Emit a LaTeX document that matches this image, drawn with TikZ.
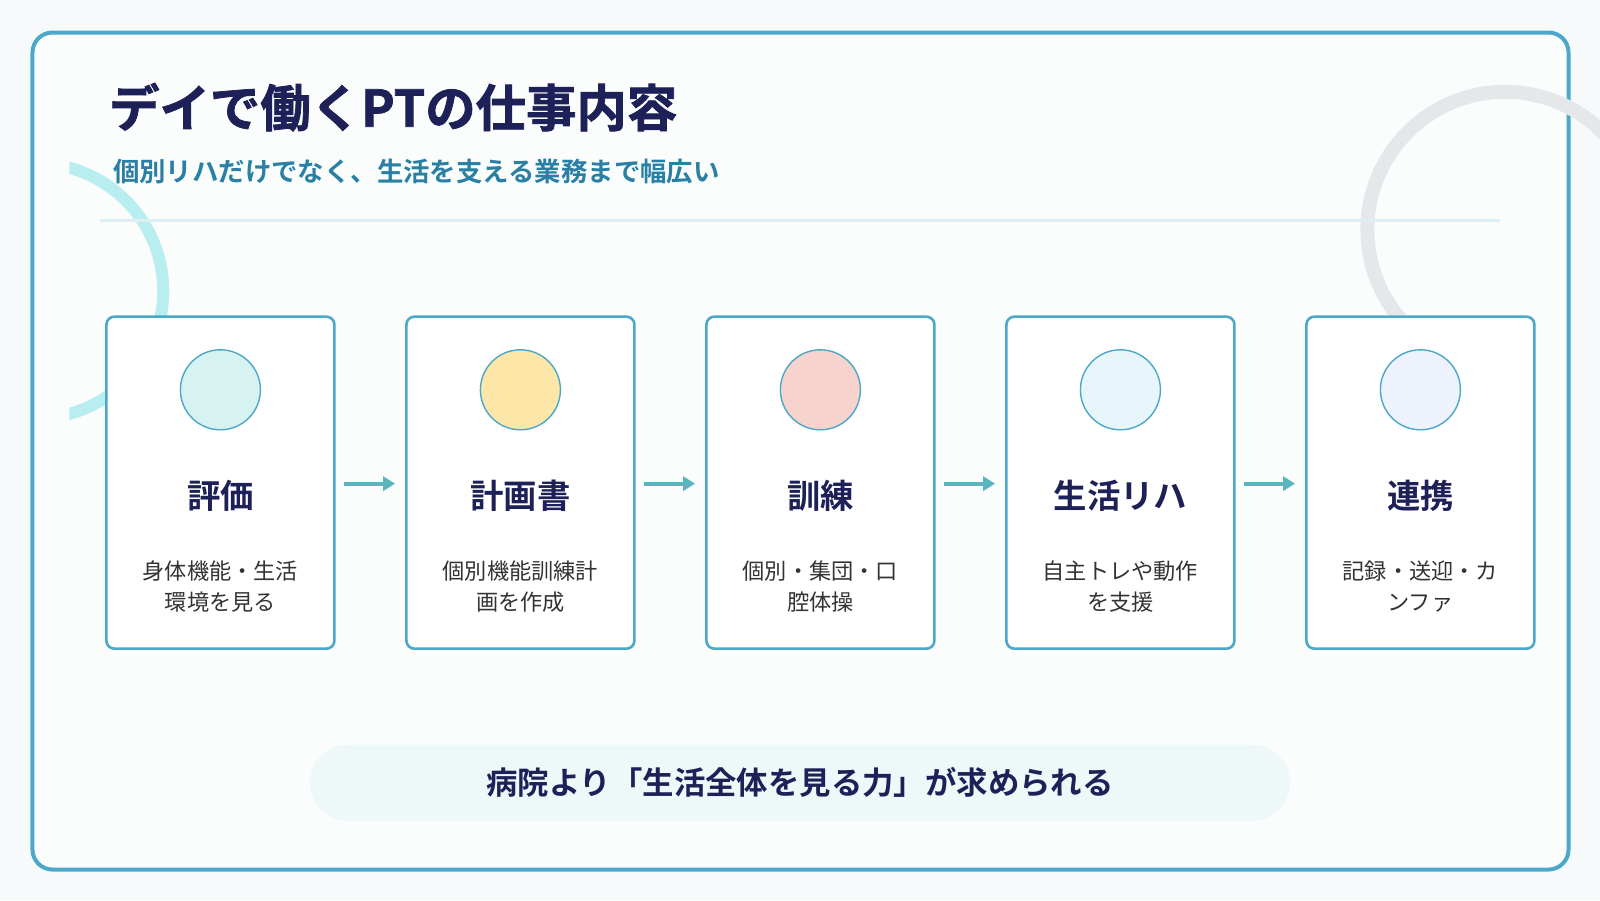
\documentclass[tikz,border=0pt]{standalone}
\usepackage{fontspec}
\setmainfont{Noto Sans CJK JP}
\newfontfamily\jpb{Noto Sans CJK JP Bold}
\newfontfamily\jpbb[FakeBold=1.5]{Noto Sans CJK JP Bold}
\usetikzlibrary{arrows.meta}
\definecolor{navy}{HTML}{1E2157}
\definecolor{frameblue}{HTML}{4BA8C8}
\definecolor{subblue}{HTML}{2A7FA5}
\definecolor{arrowc}{HTML}{5BB5BF}
\definecolor{bgc}{HTML}{F7FAFB}
\definecolor{innerc}{HTML}{FBFDFD}
\definecolor{cyanarc}{HTML}{B9EEF0}
\definecolor{grayarc}{HTML}{E6E7EA}
\definecolor{rulec}{HTML}{DDEFF3}
\definecolor{pillc}{HTML}{EEF8F9}
\tikzset{
 card/.style={draw=frameblue,line width=1.3pt,rounded corners=4pt,fill=white},
 ic/.style={circle,draw=frameblue,line width=0.7pt,minimum size=40pt,inner sep=0pt},
 head/.style={font=\jpb\fontsize{16.7}{18}\selectfont,text=navy},
 desc/.style={font=\fontsize{11.1}{15.3}\selectfont,text=black!80,align=center},
 arr/.style={draw=arrowc,line width=2pt,-{Triangle[length=6pt,width=7pt]}}
}
\begin{document}
\begin{tikzpicture}[x=0.5102pt,y=-0.5102pt]
\useasboundingbox (0,0) rectangle (1568,882);
\fill[bgc] (0,0) rectangle (1568,882);
\node[draw=frameblue,line width=2pt,rounded corners=10pt,fill=innerc,minimum width=768pt,minimum height=418.5pt,inner sep=0pt] (frame) at (784.5,442) {};
\begin{scope}
\clip (68,0) rectangle (400,900);
\draw[cyanarc,line width=6pt] (35,285) circle[radius=125];
\end{scope}
\begin{scope}
\clip (1300,0) rectangle (1600,312);
\draw[grayarc,line width=7pt] (1475,225) circle[radius=135];
\end{scope}
\node[anchor=west,font=\jpbb\fontsize{25.2}{28}\selectfont,text=navy] (title) at (100,105) {デイで働くPTの仕事内容};
\node[anchor=west,font=\jpb\fontsize{13.2}{15}\selectfont,text=subblue] (sub) at (104,168) {個別リハだけでなく、生活を支える業務まで幅広い};
\draw[rulec,line width=1.5pt] (98,216) coordinate (l1) -- (1470,216) coordinate (l2);
\foreach \i/\x/\c/\h/\d in {
 1/216/D6F3F1/評価/{身体機能・生活\\環境を見る},
 2/510/FCE7A8/計画書/{個別機能訓練計\\画を作成},
 3/804/F7D3CD/訓練/{個別・集団・口\\腔体操},
 4/1098/E6F6FB/生活リハ/{自主トレや動作\\を支援},
 5/1392/EDF2FC/連携/{記録・送迎・カ\\ンファ}}{
 \definecolor{cc}{HTML}{\c}
 \node[card,minimum width=114pt,minimum height=166pt,inner sep=0pt] (card\i) at (\x,473) {};
 \node[ic,fill=cc] (icon\i) at (\x,382) {};
 \node[head] (h\i) at (\x,486) {\h};
 \node[desc] (d\i) at (\x,575) {\d};
}
\foreach \a/\b in {1/2,2/3,3/4,4/5}{
 \draw[arr] ([xshift=4pt,yshift=-0.5pt]card\a.east) -- ([xshift=-5pt,yshift=-0.5pt]card\b.west);
}
\node[fill=pillc,rounded corners=19pt,minimum width=490pt,minimum height=38pt,inner sep=0pt,font=\jpb\fontsize{15.7}{17}\selectfont,text=navy] (pill) at (784,767) {病院より「生活全体を見る力」が求められる};
\end{tikzpicture}
\end{document}
